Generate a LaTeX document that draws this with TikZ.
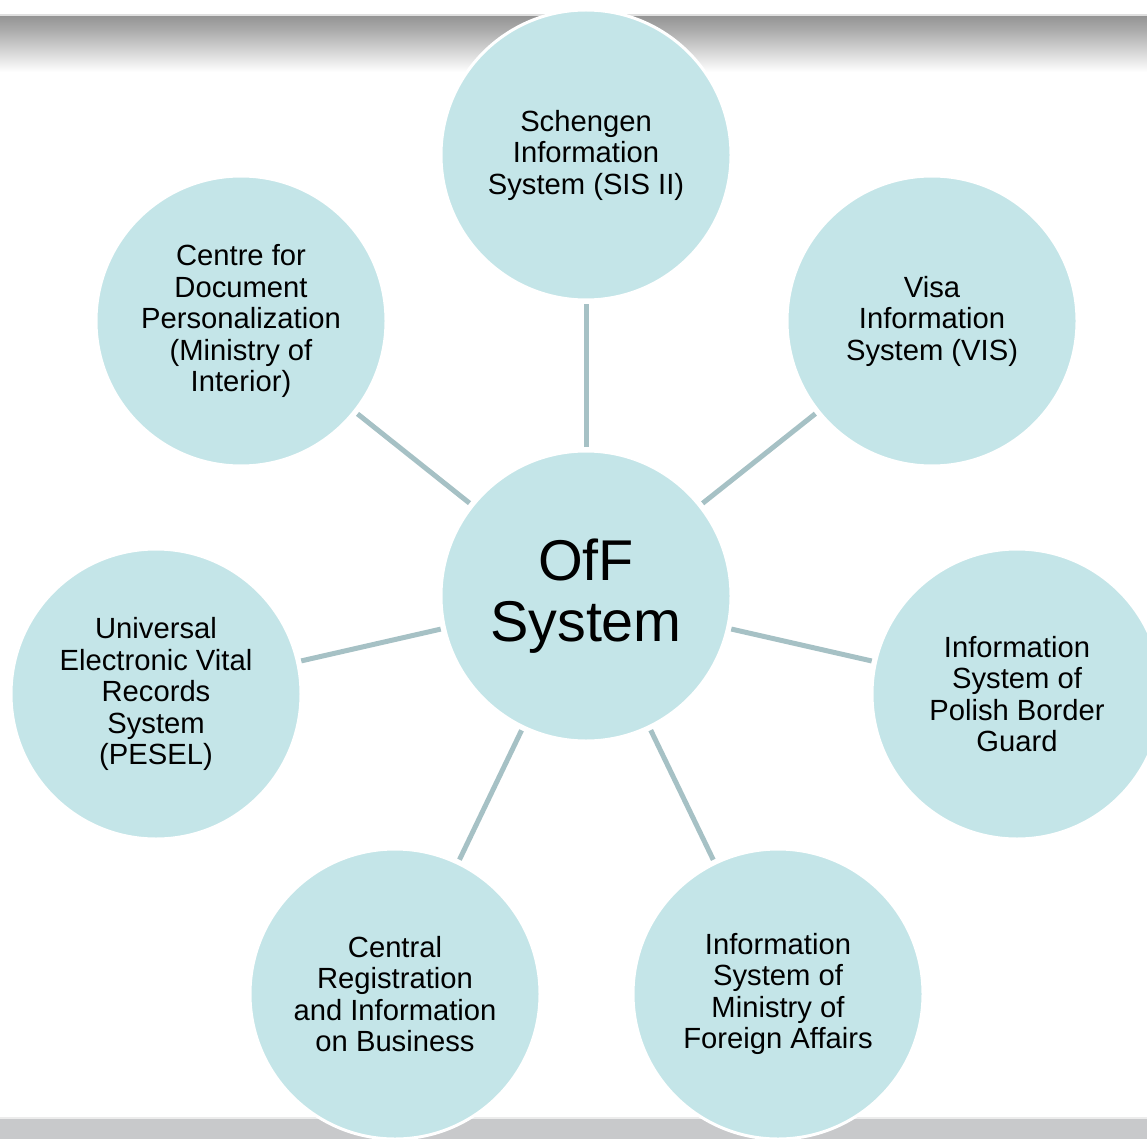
\documentclass[tikz,border=0pt]{standalone}
\usepackage{fontspec}
\setmainfont{Liberation Sans}
\definecolor{cfill}{HTML}{C4E5E8}
\definecolor{cline}{HTML}{A6C1C5}
\definecolor{bargray}{HTML}{969696}
\definecolor{botgray}{HTML}{C8C9CB}
\tikzset{
  bubble/.style={circle, minimum size=290pt, inner sep=0pt, outer sep=0pt, fill=cfill, draw=white, line width=3pt, align=center, font=\fontsize{29.2}{31.5}\selectfont},
  hub/.style={bubble, font=\fontsize{57.5}{61}\selectfont},
  conn/.style={draw=cline, line width=5pt, shorten >=4pt, shorten <=4pt}
}
\begin{document}
\begin{tikzpicture}[x=1pt,y=-1pt]
\useasboundingbox (0,0) rectangle (1147,1139);
% top bar
\fill[gray!25] (0,14) rectangle (1147,17);
\shade[top color=bargray, bottom color=bargray!80!white] (0,17) rectangle (1147,30);
\shade[top color=bargray!80!white, bottom color=white] (0,30) rectangle (1147,72);
% bottom bar
\fill[gray!15] (0,1117) rectangle (1147,1119);
\fill[botgray] (0,1119) rectangle (1147,1139);
% nodes
\node[hub] (c) at (586,596) {OfF\\System};
\node[bubble] (sis) at (586,155) {Schengen\\Information\\System (SIS II)};
\node[bubble] (vis) at (932,321) {Visa\\Information\\System (VIS)};
\node[bubble] (cdp) at (241,321) {Centre for\\Document\\Personalization\\(Ministry of\\Interior)};
\node[bubble] (pes) at (156,694) {Universal\\Electronic Vital\\Records\\System\\(PESEL)};
\node[bubble] (bg) at (1017,694) {Information\\System of\\Polish Border\\Guard};
\node[bubble] (crb) at (395,994) {Central\\Registration\\and Information\\on Business};
\node[bubble] (mfa) at (778,994) {Information\\System of\\Ministry of\\Foreign Affairs};
% connectors
\draw[conn] (c) -- (sis);
\draw[conn] (c) -- (vis);
\draw[conn] (c) -- (cdp);
\draw[conn] (c) -- (pes);
\draw[conn] (c) -- (bg);
\draw[conn] (c) -- (crb);
\draw[conn] (c) -- (mfa);
\end{tikzpicture}
\end{document}
